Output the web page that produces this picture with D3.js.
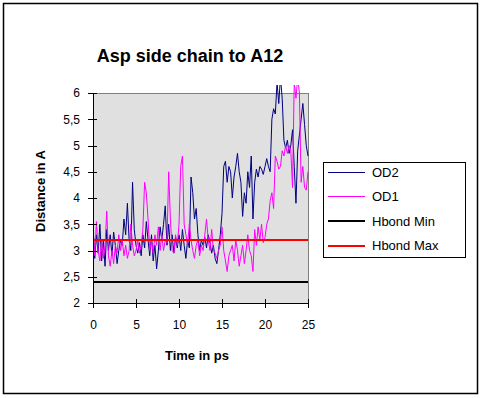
<!DOCTYPE html>
<html lang="en">
<head>
<meta charset="UTF-8">
<title>Asp side chain to A12</title>
<script src="https://cdn.jsdelivr.net/npm/d3@7"></script>
<style>
  body { margin: 0; background: #fff; }
  text { font-family: Arial, "Liberation Sans", sans-serif; fill: #000; }
  .title { font-size: 18px; font-weight: bold; text-anchor: middle; }
  .axis-label { font-size: 13px; font-weight: bold; text-anchor: middle; }
  .tick text { font-size: 12px; }
  .legend text { font-size: 13px; }
</style>
</head>
<body>
<div id="chart"></div>
<script>
// sample times in ps (every 0.2 ps from 0 to 25)
const times = d3.range(0, 126).map(i => +(i * 0.2).toFixed(1));

// distance of OD2 to A12
const od2 = [
  3.45, 2.85, 3.3, 2.95, 3.5, 2.8, 3.2, 2.7, 3.4, 3.0, 3.3,
  2.9, 3.35, 3.1, 2.75, 3.0, 3.2, 3.1, 3.6, 3.3, 3.9,
  3.2, 3.0, 4.3, 3.4, 3.1, 2.95, 3.15, 2.9, 3.3, 3.05,
  3.55, 3.2, 2.9, 3.3, 2.8, 3.1, 2.65, 3.0, 3.45, 3.2,
  3.5, 3.85, 3.1, 3.5, 3.0, 3.3, 2.95, 3.25, 3.05, 3.3,
  3.0, 3.4, 3.1, 2.85, 3.2, 3.05, 4.4, 4.1, 3.6, 3.8,
  3.3, 3.0, 3.2, 3.1, 3.25, 3.05, 3.3, 3.15, 2.95, 3.1,
  2.85, 2.75, 3.0, 3.3, 3.7, 4.6, 4.7, 4.3, 4.6, 4.5,
  4.0, 4.4, 4.6, 4.85, 4.5, 4.3, 3.65, 4.1, 3.9, 4.5,
  4.2, 4.8, 3.6, 4.3, 4.55, 4.4, 4.6, 4.55, 4.45, 4.6,
  4.75, 4.6, 4.5, 5.5, 5.7, 5.6, 6.2, 5.8, 6.3, 5.9,
  5.1, 4.95, 5.1, 4.85, 5.0, 5.3, 4.6, 3.9, 4.9, 5.2,
  5.5, 5.8, 5.4, 5.0, 4.8
];

// distance of OD1 to A12
const od1 = [
  3.5, 2.9, 3.55, 3.0, 2.8, 3.2, 2.85, 3.1, 3.75, 2.9, 2.7,
  3.0, 2.75, 3.1, 2.95, 3.3, 3.0, 3.2, 2.9, 3.1, 2.85,
  3.0, 3.5, 3.1, 2.9, 3.0, 3.2, 2.95, 3.1, 3.4, 4.3,
  4.1, 3.6, 3.0, 3.2, 2.95, 3.3, 3.1, 3.45, 3.0, 3.3,
  3.0, 3.2, 3.15, 4.5, 3.6, 3.0, 2.95, 3.3, 3.1, 3.5,
  4.6, 4.8, 3.5, 3.3, 3.1, 3.5, 3.2, 3.0, 2.85, 3.1,
  3.2, 2.9, 3.1, 3.0, 3.3, 3.6, 3.2, 3.0, 3.4, 3.0,
  2.95, 2.85, 3.0, 3.1, 3.45, 3.0, 2.8, 2.6, 2.9, 3.0,
  3.1, 2.8, 3.2, 3.0, 2.7, 2.9, 3.1, 2.75, 3.0, 3.3,
  3.0, 2.9, 2.6, 3.4, 3.1, 3.45, 3.2, 3.5, 3.15, 3.25,
  3.5, 3.6, 3.95, 4.1, 3.8, 4.8, 4.7, 4.55, 4.6, 4.9,
  4.8, 5.0, 4.85, 5.0, 4.9, 4.2, 6.2, 5.9, 6.3, 6.0,
  4.3, 4.6, 4.2, 4.15, 4.5
];

// h-bond limits
const hbondTimes = [0, 25];
const hbondMin = [2.4, 2.4];
const hbondMax = [3.2, 3.2];

const seriesNames = ["OD2", "OD1", "Hbond Min", "Hbond Max"];
const seriesColors = ["#000080", "#ff00ff", "#000000", "#ff0000"];
const seriesWidths = [1, 1, 2, 2];

const xTicks = [0, 5, 10, 15, 20, 25];
const yTicks = [2, 2.5, 3, 3.5, 4, 4.5, 5, 5.5, 6];

const width = 482, height = 398;
const plot = { left: 93, right: 308, top: 93, bottom: 303 };

const svg = d3.select("#chart").append("svg")
  .attr("width", width)
  .attr("height", height);

// outer chart frame
svg.append("rect")
  .attr("x", 3.5).attr("y", 3.5)
  .attr("width", 474).attr("height", 390)
  .attr("fill", "#fff").attr("stroke", "#000").attr("stroke-width", 1.5);

const x = d3.scaleLinear().domain([0, 25]).range([plot.left, plot.right]);
const y = d3.scaleLinear().domain([2, 6]).range([plot.bottom, plot.top]);

// plot area
svg.append("rect")
  .attr("x", plot.left).attr("y", plot.top)
  .attr("width", plot.right - plot.left).attr("height", plot.bottom - plot.top)
  .attr("fill", "#e0e0e0")
  .attr("stroke", "#808080")
  .attr("shape-rendering", "crispEdges");

svg.append("clipPath").attr("id", "clip")
  .append("rect")
  .attr("x", plot.left).attr("y", plot.top - 8)
  .attr("width", plot.right - plot.left + 1).attr("height", plot.bottom - plot.top + 8);

const series = [
  times.map((t, i) => [t, od2[i]]),
  times.map((t, i) => [t, od1[i]]),
  hbondTimes.map((t, i) => [t, hbondMin[i]]),
  hbondTimes.map((t, i) => [t, hbondMax[i]])
];

const line = d3.line().x(d => x(d[0])).y(d => y(d[1]));

const g = svg.append("g").attr("clip-path", "url(#clip)");
g.selectAll("path")
  .data(series)
  .enter().append("path")
  .attr("d", line)
  .attr("fill", "none")
  .attr("stroke", (d, i) => seriesColors[i])
  .attr("stroke-width", (d, i) => seriesWidths[i])
  .attr("shape-rendering", (d, i) => i > 1 ? "crispEdges" : null);

// axes (tick marks cross the axis line)
const yAxis = svg.append("g")
  .attr("transform", `translate(${plot.left},0)`)
  .call(d3.axisLeft(y).tickValues(yTicks).tickSize(0).tickPadding(13)
    .tickFormat(d => String(d).replace(".", ",")));
yAxis.selectAll(".tick").append("line")
  .attr("x1", -5).attr("x2", 4).attr("stroke", "#000");

const xAxis = svg.append("g")
  .attr("transform", `translate(0,${plot.bottom})`)
  .call(d3.axisBottom(x).tickValues(xTicks).tickSize(0).tickPadding(17));
xAxis.selectAll(".tick").append("line")
  .attr("y1", -4).attr("y2", 5).attr("stroke", "#000");

svg.selectAll(".domain").attr("stroke", "#000").attr("shape-rendering", "crispEdges");
svg.selectAll(".tick text").attr("font-family", null).attr("font-size", null);
svg.selectAll(".tick line").attr("shape-rendering", "crispEdges");

// titles
svg.append("text").attr("class", "title")
  .attr("x", 190).attr("y", 62)
  .text("Asp side chain to A12");

svg.append("text").attr("class", "axis-label")
  .attr("x", 197).attr("y", 360)
  .text("Time in ps");

svg.append("text").attr("class", "axis-label")
  .attr("transform", "translate(45,191) rotate(-90)")
  .text("Distance in A");

// legend
const legend = svg.append("g").attr("class", "legend");
legend.append("rect")
  .attr("x", 323.5).attr("y", 162.5)
  .attr("width", 142).attr("height", 95)
  .attr("fill", "#fff").attr("stroke", "#000");

const rows = legend.selectAll(".row")
  .data(seriesNames)
  .enter().append("g")
  .attr("class", "row")
  .attr("transform", (d, i) => `translate(0,${172 + i * 24.5})`);

rows.append("line")
  .attr("x1", 328).attr("x2", 365)
  .attr("stroke", (d, i) => seriesColors[i])
  .attr("stroke-width", (d, i) => seriesWidths[i])
  .attr("shape-rendering", "crispEdges");

rows.append("text")
  .attr("x", 372).attr("dy", "0.35em")
  .text(d => d);
</script>
</body>
</html>
